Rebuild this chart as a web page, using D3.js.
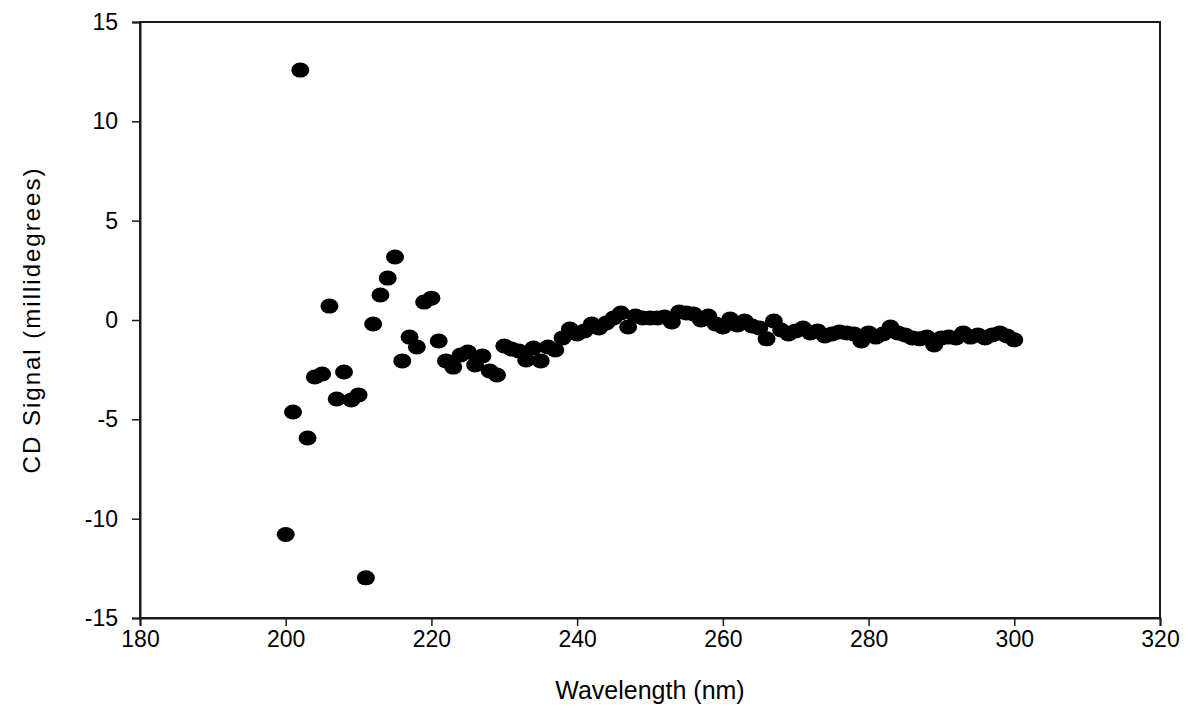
<!DOCTYPE html>
<html>
<head>
<meta charset="utf-8">
<script src="https://cdn.jsdelivr.net/npm/d3@7"></script>
<style>
  body { margin: 0; background: #fff; }
  svg { display: block; }
  text { font-family: "Liberation Sans", Arial, sans-serif; fill: #000; }
</style>
</head>
<body>
<div id="chart"></div>
<script>
// longueurs d'onde (nm), un point par nm
const wavelengths = d3.range(200, 301);

// signal CD (millidegrés)
const cdSignal = [
  -10.8, -4.63, 12.58, -5.94, -2.87, -2.72, 0.70, -3.98, -2.62, -4.03,
  -3.77, -12.98, -0.2, 1.26, 2.11, 3.17, -2.06, -0.86, -1.36, 0.9,
  1.1, -1.06, -2.06, -2.37, -1.76, -1.61, -2.26, -1.81, -2.57, -2.77,
  -1.31, -1.46, -1.56, -2.01, -1.41, -2.06, -1.36, -1.51, -0.9, -0.45,
  -0.7, -0.55, -0.2, -0.4, -0.15, 0.1, 0.35, -0.35, 0.2, 0.1,
  0.1, 0.1, 0.15, -0.1, 0.4, 0.35, 0.3, 0.0, 0.2, -0.2,
  -0.35, 0.05, -0.25, -0.05, -0.3, -0.4, -0.95, -0.05, -0.5, -0.7,
  -0.55, -0.4, -0.65, -0.55, -0.8, -0.7, -0.6, -0.65, -0.7, -1.06,
  -0.65, -0.86, -0.7, -0.35, -0.65, -0.75, -0.9, -0.95, -0.86, -1.26,
  -0.9, -0.86, -0.9, -0.65, -0.86, -0.75, -0.9, -0.75, -0.65, -0.8,
  -1.0
];

const xTicks = [180, 200, 220, 240, 260, 280, 300, 320];
const yTicks = [-15, -10, -5, 0, 5, 10, 15];

const width = 1190, height = 719;
const margin = { left: 140, right: 30, top: 22, bottom: 101 };

const svg = d3.select("#chart").append("svg")
  .attr("width", width)
  .attr("height", height);

const x = d3.scaleLinear().domain([180, 320]).range([margin.left, width - margin.right]);
const y = d3.scaleLinear().domain([-15, 15]).range([height - margin.bottom, margin.top]);

// cadre
svg.append("rect")
  .attr("x", x(180)).attr("y", y(15))
  .attr("width", x(320) - x(180)).attr("height", y(-15) - y(15))
  .attr("fill", "none").attr("stroke", "#1a1a1a").attr("stroke-width", 2);

// axes (tirets ASCII comme dans l'original)
const fmt = d => String(d);
const xAxis = svg.append("g")
  .attr("transform", `translate(0,${y(-15)})`)
  .call(d3.axisBottom(x).tickValues(xTicks).tickSize(8).tickPadding(5).tickFormat(fmt));
const yAxis = svg.append("g")
  .attr("transform", `translate(${x(180)},0)`)
  .call(d3.axisLeft(y).tickValues(yTicks).tickSize(8).tickPadding(14).tickFormat(fmt));

[xAxis, yAxis].forEach(g => {
  g.attr("font-size", 23).attr("font-family", "Liberation Sans, Arial, sans-serif");
  g.select(".domain").attr("stroke", "#1a1a1a").attr("stroke-width", 2);
  g.selectAll(".tick line").attr("stroke", "#1a1a1a").attr("stroke-width", 1.5);
  g.selectAll(".tick text").attr("fill", "#000");
});

// points
svg.append("g").selectAll("ellipse")
  .data(wavelengths)
  .enter()
  .append("ellipse")
  .attr("cx", d => x(d))
  .attr("cy", (d, i) => y(cdSignal[i]))
  .attr("rx", 9)
  .attr("ry", 7.5)
  .attr("fill", "#000");

// titres
svg.append("text")
  .attr("x", (x(180) + x(320)) / 2)
  .attr("y", 699)
  .attr("text-anchor", "middle")
  .attr("font-size", 25)
  .text("Wavelength (nm)");

svg.append("text")
  .attr("transform", `translate(40,${(y(15) + y(-15)) / 2}) rotate(-90)`)
  .attr("text-anchor", "middle")
  .attr("font-size", 24)
  .attr("letter-spacing", 2)
  .text("CD Signal (millidegrees)");
</script>
</body>
</html>
